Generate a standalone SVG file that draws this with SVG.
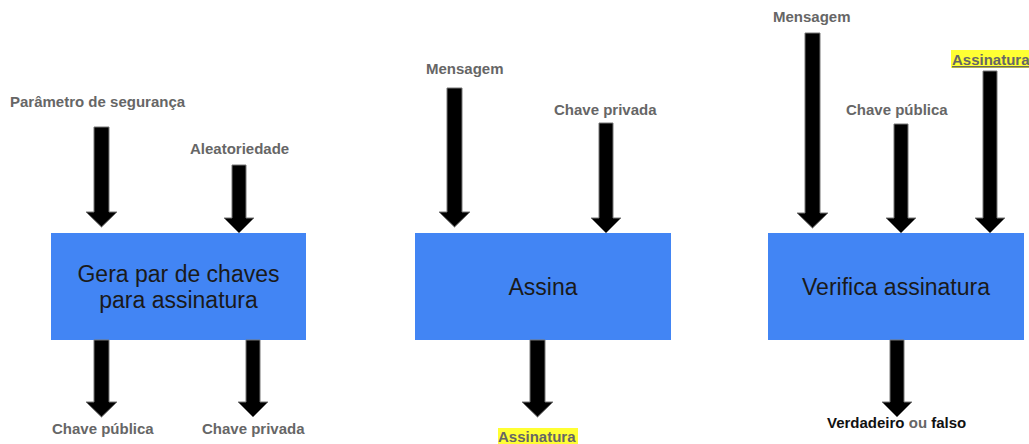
<svg xmlns="http://www.w3.org/2000/svg" width="1029" height="444" viewBox="0 0 1029 444">
<style>
.box{fill:#4285F4}
.bt{font-family:"Liberation Sans",Arial,sans-serif;font-size:23px;fill:#1a1a1a;text-anchor:middle}
.lb{font-family:"Liberation Sans",Arial,sans-serif;font-size:15px;font-weight:bold;fill:#666}
.dk{fill:#111}
.hl{fill:#FFFF33}
.ar{fill:#000;stroke:#777;stroke-width:1}
</style>
<rect width="1029" height="444" fill="#fff"/>
<g id="gera">
<rect class="box" x="51" y="233" width="255" height="107"/>
<text class="bt" x="178.5" y="282">Gera par de chaves</text>
<text class="bt" x="178.5" y="308">para assinatura</text>
</g>
<g id="assina">
<rect class="box" x="415" y="233" width="256" height="107"/>
<text class="bt" x="543" y="295">Assina</text>
</g>
<g id="verifica">
<rect class="box" x="768" y="233" width="256" height="107"/>
<text class="bt" x="896" y="295">Verifica assinatura</text>
</g>
<g id="labels">
<text class="lb" x="10" y="107">Parâmetro de segurança</text>
<text class="lb" x="190" y="154">Aleatoriedade</text>
<text class="lb" x="52" y="434">Chave pública</text>
<text class="lb" x="202" y="434">Chave privada</text>
<text class="lb" x="426" y="74">Mensagem</text>
<text class="lb" x="554" y="115">Chave privada</text>
<rect class="hl" x="498" y="428" width="80" height="16"/>
<text class="lb" x="498" y="442">Assinatura</text>
<text class="lb" x="773" y="22">Mensagem</text>
<text class="lb" x="846" y="115">Chave pública</text>
<rect class="hl" x="951" y="50" width="78" height="18"/>
<text class="lb" x="952" y="65" text-decoration="underline">Assinatura</text>
<text class="lb" x="827" y="428"><tspan class="dk">Verdadeiro</tspan> ou <tspan class="dk">falso</tspan></text>
</g>
<g id="connectors">
<polygon class="ar" points="94,127 109,127 109,212 117,212 101.5,227 86,212 94,212"/>
<polygon class="ar" points="232,165 246,165 246,218 254,218 239,233 224,218 232,218"/>
<polygon class="ar" points="94,340 109,340 109,402 117,402 101.5,417 86,402 94,402"/>
<polygon class="ar" points="246,340 260,340 260,402 268,402 253,417 238,402 246,402"/>
<polygon class="ar" points="447,88 462,88 462,212 470,212 454.5,227 439,212 447,212"/>
<polygon class="ar" points="599,123 613,123 613,218 621,218 606,233 591,218 599,218"/>
<polygon class="ar" points="530,340 545,340 545,402 553,402 537.5,417 522,402 530,402"/>
<polygon class="ar" points="805,33 820,33 820,213 828,213 812.5,228 797,213 805,213"/>
<polygon class="ar" points="894,124 908,124 908,218 916,218 901,233 886,218 894,218"/>
<polygon class="ar" points="983,71 997,71 997,218 1005,218 990,233 975,218 983,218"/>
<polygon class="ar" points="890,340 904,340 904,402 912,402 897,417 882,402 890,402"/>
</g>
</svg>
